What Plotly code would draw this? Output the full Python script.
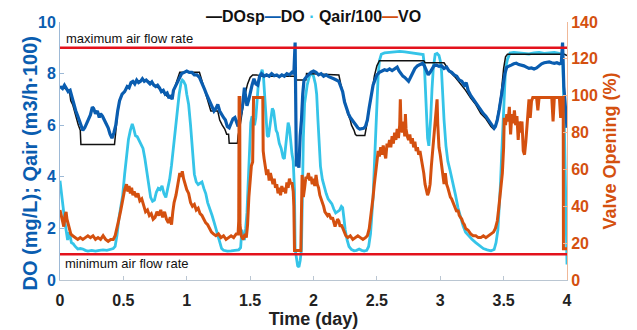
import plotly.graph_objects as go

# ---------------- data ----------------
t_do = [0.00,0.02,0.035,0.05,0.065,0.08,0.095,0.11,0.125,0.14,0.155,0.17,0.18,0.195,0.21,0.225,0.24,0.255,0.265,0.28,
        0.295,0.31,0.32,0.335,0.35,0.365,0.38,0.395,0.41,0.425,0.44,0.455,0.47,0.49,0.51,0.53,0.545,0.56,0.575,0.59,
        0.605,0.62,0.635,0.65,0.665,0.68,0.695,0.71,0.725,0.74,0.755,0.77,0.785,0.80,0.815,0.83,0.845,0.86,0.875,0.885,
        0.895,0.905,0.92,0.94,0.96,0.98,1.00,1.02,1.04,1.06,1.08,1.10,1.12,1.14,1.16,1.18,1.20,1.215,1.23,1.245,
        1.26,1.275,1.29,1.305,1.32,1.335,1.35,1.365,1.38,1.395,1.405,1.415,1.43,1.44,1.455,1.465,1.475,1.49,1.50,1.515,
        1.53,1.545,1.56,1.575,1.59,1.61,1.63,1.65,1.67,1.69,1.71,1.73,1.75,1.77,1.79,1.81,1.83,1.845,1.855,1.86,
        1.865,1.875,1.885,1.895,1.905,1.915,1.925,1.94,1.96,1.98,2.00,2.02,2.04,2.06,2.08,2.10,2.12,2.14,2.16,2.18,
        2.20,2.215,2.23,2.245,2.26,2.275,2.29,2.305,2.32,2.335,2.35,2.365,2.38,2.395,2.41,2.425,2.44,2.455,2.47,2.485,
        2.50,2.52,2.54,2.56,2.58,2.60,2.62,2.64,2.66,2.675,2.69,2.705,2.72,2.735,2.75,2.765,2.78,2.80,2.82,2.84,
        2.86,2.875,2.89,2.905,2.92,2.935,2.95,2.97,2.99,3.01,3.03,3.05,3.07,3.09,3.11,3.13,3.15,3.17,3.19,3.205,
        3.22,3.24,3.26,3.28,3.30,3.32,3.34,3.36,3.38,3.40,3.415,3.425,3.435,3.45,3.465,3.48,3.495,3.51,3.525,3.54,
        3.56,3.58,3.60,3.62,3.64,3.66,3.68,3.70,3.72,3.74,3.76,3.78,3.80,3.82,3.84,3.86,3.88,3.90,3.92,3.94,
        3.955,3.965,3.975,3.99,4.00]
do_vals = [7.50,7.42,7.55,7.40,7.30,7.35,7.05,6.85,6.55,6.35,6.15,5.95,5.80,5.90,6.05,6.25,6.40,6.70,6.65,6.45,
           6.55,6.30,6.45,6.35,6.20,6.10,5.90,5.65,5.50,5.70,6.00,6.55,6.95,7.20,7.30,7.50,7.45,7.65,7.70,7.60,
           7.75,7.65,7.70,7.80,7.70,7.75,7.65,7.60,7.68,7.55,7.50,7.55,7.45,7.30,7.35,7.20,7.25,7.05,7.15,7.00,
           7.35,7.45,7.65,7.85,8.00,8.05,8.10,8.05,8.05,7.95,7.95,7.85,7.65,7.40,7.15,6.95,6.75,6.55,6.65,6.80,
           6.55,6.40,6.30,6.20,5.95,5.90,6.10,6.25,6.30,6.05,5.95,6.20,6.50,6.75,7.45,7.10,6.75,7.00,7.25,7.55,
           7.80,7.60,7.55,7.90,8.00,7.90,7.95,7.90,8.00,7.92,7.95,7.88,7.95,7.90,8.00,7.95,8.05,8.00,9.20,7.60,
           4.40,4.60,4.35,5.60,6.20,7.20,7.75,7.85,7.95,8.05,8.10,8.05,7.95,8.00,7.90,7.95,7.88,7.85,7.80,7.75,
           7.70,7.50,7.30,6.90,6.65,6.45,6.30,6.20,6.05,5.95,5.90,5.85,5.85,5.88,5.95,6.20,6.70,7.20,7.55,7.75,
           7.95,8.05,8.10,8.15,8.12,8.18,8.12,8.20,8.25,8.10,7.98,7.90,7.85,7.75,7.70,7.85,8.00,8.20,8.30,8.35,
           8.40,8.30,8.15,7.95,8.05,8.20,8.30,8.33,8.28,8.30,8.20,8.25,8.10,8.05,7.95,7.90,7.75,7.70,7.55,7.65,
           7.35,7.15,7.00,6.85,6.70,6.55,6.45,6.35,6.20,6.05,5.95,5.88,5.95,6.20,6.60,7.05,7.60,8.00,8.25,8.30,
           8.33,8.38,8.40,8.35,8.33,8.30,8.25,8.20,8.22,8.18,8.22,8.30,8.38,8.42,8.45,8.45,8.42,8.40,8.42,8.38,
           8.40,9.20,7.50,6.40,5.90]

t_dosp = [0.00,0.05,0.075,0.085,0.10,0.115,0.13,0.145,0.16,0.165,0.43,0.435,0.445,0.455,0.47,0.49,0.53,0.57,0.65,0.70,
          0.75,0.80,0.85,0.885,0.90,0.92,0.935,0.945,1.10,1.115,1.13,1.15,1.175,1.19,1.245,1.26,1.28,1.30,1.315,1.33,
          1.335,1.40,1.405,1.42,1.44,1.46,1.48,1.50,1.52,1.55,1.60,1.85,1.855,1.94,1.945,2.20,2.215,2.23,2.25,2.27,
          2.29,2.30,2.32,2.33,2.34,2.405,2.42,2.44,2.46,2.48,2.50,2.52,2.87,2.88,3.03,3.05,3.08,3.12,3.16,3.20,
          3.24,3.28,3.32,3.36,3.40,3.42,3.44,3.46,3.48,3.50,3.515,3.53,3.98,4.00]
dosp_vals = [7.50,7.40,7.30,6.95,6.80,6.50,6.30,6.00,5.80,5.25,5.25,5.55,5.90,6.50,6.95,7.20,7.45,7.65,7.75,7.70,
             7.55,7.35,7.10,7.05,7.40,7.70,7.85,8.05,8.05,7.80,7.50,7.20,6.80,6.55,6.55,6.20,6.00,5.85,5.65,5.65,
             5.30,5.30,5.60,5.95,6.60,7.20,7.60,7.85,7.95,7.95,7.90,7.90,7.75,7.75,8.00,7.95,7.60,7.30,6.85,6.45,
             6.20,6.00,5.80,5.65,5.60,5.60,6.00,6.70,7.30,7.90,8.30,8.50,8.50,8.42,8.42,8.25,8.05,7.85,7.60,7.35,
             7.05,6.80,6.45,6.25,5.95,5.85,6.05,6.55,7.20,8.20,8.65,8.75,8.75,8.70]

t_qair = [0.00,0.01,0.02,0.03,0.04,0.05,0.06,0.07,0.08,0.09,0.105,0.12,0.14,0.16,0.18,0.20,0.22,0.25,0.28,0.31,
          0.34,0.37,0.40,0.42,0.435,0.45,0.465,0.48,0.495,0.51,0.525,0.54,0.555,0.57,0.58,0.595,0.61,0.625,0.64,0.655,
          0.67,0.685,0.70,0.715,0.73,0.745,0.76,0.775,0.79,0.805,0.82,0.835,0.85,0.865,0.88,0.895,0.91,0.925,0.94,0.955,
          0.965,0.975,0.99,1.00,1.015,1.03,1.045,1.06,1.075,1.09,1.105,1.12,1.135,1.15,1.165,1.18,1.20,1.215,1.23,1.245,
          1.26,1.275,1.29,1.32,1.35,1.38,1.41,1.425,1.435,1.445,1.455,1.465,1.475,1.485,1.495,1.505,1.515,1.525,1.535,1.545,
          1.555,1.565,1.58,1.595,1.605,1.615,1.625,1.635,1.645,1.655,1.665,1.675,1.685,1.695,1.705,1.715,1.73,1.745,1.76,1.77,
          1.78,1.79,1.80,1.81,1.82,1.83,1.84,1.85,1.855,1.865,1.875,1.885,1.895,1.905,1.912,1.92,1.93,1.94,1.95,1.965,
          1.975,1.985,2.00,2.015,2.025,2.035,2.045,2.055,2.07,2.085,2.10,2.115,2.13,2.145,2.16,2.175,2.19,2.205,2.22,2.23,
          2.24,2.25,2.265,2.28,2.30,2.32,2.34,2.36,2.38,2.40,2.42,2.435,2.45,2.46,2.47,2.48,2.49,2.50,2.51,2.52,
          2.535,2.56,2.60,2.64,2.68,2.72,2.76,2.80,2.84,2.865,2.875,2.885,2.893,2.90,2.91,2.918,2.925,2.935,2.945,2.96,
          2.975,2.99,3.00,3.01,3.02,3.03,3.045,3.06,3.075,3.09,3.105,3.12,3.14,3.16,3.18,3.20,3.225,3.25,3.28,3.31,
          3.34,3.37,3.40,3.425,3.44,3.455,3.465,3.475,3.485,3.495,3.505,3.515,3.53,3.55,3.58,3.62,3.66,3.70,3.74,3.78,
          3.82,3.86,3.90,3.94,3.965,3.975,3.985,3.993,4.00]
qair_vals = [3.85,3.50,3.10,2.60,2.20,1.75,1.55,1.85,1.70,1.45,1.40,1.30,1.20,1.22,1.20,1.15,1.12,1.15,1.12,1.15,
             1.17,1.15,1.20,1.22,1.30,1.75,2.40,2.90,3.30,4.10,4.90,5.45,5.80,6.05,5.90,5.60,5.55,5.40,5.30,5.10,
             4.70,4.20,3.65,3.20,3.05,3.10,3.40,3.55,3.50,3.65,3.35,3.20,3.55,3.90,4.45,5.20,5.80,6.60,7.20,7.65,
             7.75,7.70,7.55,7.20,6.80,6.00,4.90,4.10,3.80,3.70,3.75,3.80,3.55,3.35,3.00,2.80,2.50,2.25,2.00,1.70,
             1.40,1.22,1.15,1.12,1.13,1.15,1.17,1.25,1.95,1.70,1.55,2.00,2.60,3.80,5.20,6.10,6.35,6.20,6.00,6.30,
             7.00,7.60,7.95,8.15,7.90,7.20,6.40,5.60,5.55,5.95,6.40,6.65,6.55,6.20,5.80,5.70,5.30,5.10,4.75,4.70,
             5.20,5.70,6.10,5.90,5.30,4.90,4.60,3.50,1.20,0.80,0.55,0.50,0.75,1.20,3.50,5.50,6.85,7.30,7.55,7.85,
             8.00,8.00,7.90,7.60,7.20,6.20,5.00,4.40,3.90,3.60,3.35,3.15,3.05,2.95,2.75,2.60,2.65,2.70,2.85,2.80,
             2.40,1.95,1.55,1.30,1.18,1.13,1.15,1.20,1.15,1.12,1.15,1.30,1.80,2.40,3.20,4.40,5.60,6.90,7.90,8.50,
             8.75,8.80,8.82,8.85,8.86,8.84,8.82,8.78,8.76,8.74,8.30,7.20,6.20,5.50,5.20,5.70,6.30,7.40,8.20,8.75,
             8.78,8.70,8.50,8.10,7.00,6.20,5.20,4.60,4.30,4.00,3.70,3.30,2.80,2.40,2.10,1.85,1.70,1.58,1.45,1.32,
             1.22,1.17,1.13,1.18,1.45,1.95,2.70,3.70,4.90,6.20,7.40,8.20,8.55,8.80,8.82,8.80,8.78,8.76,8.80,8.82,
             8.78,8.80,8.82,8.78,8.76,7.00,4.50,1.50,0.60]

t_vo = [0.00,0.01,0.02,0.03,0.04,0.048,0.055,0.065,0.075,0.085,0.10,0.12,0.14,0.16,0.18,0.20,0.22,0.24,0.26,0.28,
        0.30,0.32,0.34,0.36,0.38,0.40,0.42,0.435,0.45,0.465,0.48,0.495,0.51,0.525,0.535,0.545,0.555,0.565,0.575,0.585,
        0.60,0.615,0.63,0.645,0.66,0.675,0.69,0.705,0.72,0.735,0.75,0.765,0.78,0.795,0.81,0.825,0.84,0.855,0.87,0.88,
        0.89,0.90,0.915,0.93,0.945,0.955,0.965,0.975,0.985,1.00,1.015,1.03,1.045,1.06,1.075,1.09,1.105,1.12,1.135,1.15,
        1.165,1.18,1.195,1.21,1.23,1.25,1.27,1.29,1.31,1.33,1.35,1.37,1.39,1.405,1.41,1.413,1.418,1.42,1.43,1.445,
        1.46,1.47,1.48,1.49,1.50,1.51,1.52,1.527,1.60,1.603,1.61,1.62,1.63,1.64,1.65,1.66,1.67,1.68,1.69,1.70,
        1.71,1.72,1.73,1.74,1.75,1.76,1.77,1.78,1.79,1.80,1.81,1.82,1.83,1.84,1.845,1.85,1.90,1.905,1.91,1.915,
        1.92,1.93,1.94,1.95,1.96,1.97,1.98,1.99,2.00,2.01,2.02,2.03,2.04,2.05,2.06,2.07,2.08,2.09,2.10,2.11,
        2.12,2.13,2.14,2.15,2.16,2.17,2.18,2.19,2.20,2.21,2.22,2.23,2.24,2.255,2.27,2.29,2.31,2.33,2.35,2.37,
        2.39,2.41,2.425,2.44,2.45,2.46,2.47,2.48,2.49,2.50,2.51,2.52,2.53,2.54,2.55,2.56,2.57,2.58,2.59,2.60,
        2.61,2.62,2.63,2.64,2.65,2.66,2.67,2.68,2.685,2.69,2.70,2.71,2.72,2.725,2.73,2.74,2.75,2.76,2.77,2.78,
        2.79,2.80,2.81,2.82,2.83,2.84,2.85,2.86,2.87,2.88,2.89,2.90,2.91,2.92,2.93,2.94,2.95,2.96,2.97,2.975,
        2.98,2.99,3.00,3.01,3.02,3.03,3.04,3.05,3.06,3.07,3.08,3.09,3.10,3.11,3.12,3.13,3.14,3.15,3.16,3.17,
        3.18,3.19,3.20,3.22,3.24,3.26,3.28,3.30,3.32,3.34,3.36,3.38,3.40,3.42,3.435,3.45,3.46,3.47,3.48,3.49,
        3.50,3.505,3.515,3.525,3.535,3.545,3.555,3.565,3.575,3.585,3.595,3.605,3.615,3.625,3.635,3.645,3.655,3.665,3.675,3.685,
        3.695,3.70,3.71,3.72,3.73,3.76,3.77,3.78,3.88,3.89,3.90,3.94,3.95,3.96,3.97,3.972,4.00]
vo_vals = [38,35,33,29,35,37,33,30,27,25,24,23,22,23,22,23,24,23,24,22,
           23,22,24,22,21,22,22,24,28,33,38,44,49,52,48,51,47,50,46,48,
           45,47,43,44,40,37,38,35,36,33,34,37,35,38,34,37,33,31,34,30,
           37,42,46,52,58,56,59,55,52,49,47,42,40,41,38,39,36,35,33,31,
           30,28,26,25,24,25,23,24,22,23,24,23,25,25,32,99,99,30,24,22,
           25,23,30,45,55,62,64,99,99,70,66,62,57,60,54,58,55,52,55,50,
           52,47,50,46,51,48,50,47,53,50,55,52,53,48,40,16,16,45,57,52,
           45,50,56,55,58,54,56,52,55,51,57,52,50,46,44,43,40,37,36,35,
           36,34,33,34,31,29,31,33,32,29,30,28,26,24,23,24,22,23,24,23,
           22,23,24,28,33,38,45,52,58,63,70,67,72,68,73,69,66,74,72,76,
           72,78,74,80,76,82,77,84,98,85,80,86,78,90,82,78,76,79,74,77,
           72,75,70,72,68,70,66,64,58,52,48,46,48,52,62,70,76,82,90,98,
           85,72,68,62,55,52,58,52,50,47,45,44,42,40,39,37,38,35,34,33,
           31,30,28,27,25,24,24,23,23,24,23,24,25,26,28,32,38,45,52,58,
           72,88,84,90,86,94,79,90,85,92,84,89,76,86,80,86,70,68,75,86,
           92,98,88,97,99,99,92,99,99,86,99,99,88,99,99,17,17]

limit_t = [0, 4]
max_air = [9, 9]
min_air = [1, 1]

x_ticks = [0, 0.5, 1, 1.5, 2, 2.5, 3, 3.5, 4]
x_tick_text = ["0", "0.5", "1", "1.5", "2", "2.5", "3", "3.5", "4"]
y_ticks = [0, 2, 4, 6, 8, 10]
y2_ticks = [0, 20, 40, 60, 80, 100, 120, 140]

# ---------------- styles ----------------
C_DO = "#0A5DB0"
C_Q = "#35C4E8"
C_VO = "#D4500F"
C_SP = "#111111"
C_RED = "#E3121C"
FONT = "Liberation Sans, Arial, sans-serif"

fig = go.Figure()
fig.add_trace(go.Scatter(x=t_qair, y=qair_vals, name="Qair/100", mode="lines",
                         line=dict(color=C_Q, width=2.8), yaxis="y"))
fig.add_trace(go.Scatter(x=t_vo, y=vo_vals, name="VO", mode="lines",
                         line=dict(color=C_VO, width=3), yaxis="y2"))
fig.add_trace(go.Scatter(x=t_dosp, y=dosp_vals, name="DOsp", mode="lines",
                         line=dict(color=C_SP, width=1.5), yaxis="y"))
fig.add_trace(go.Scatter(x=t_do, y=do_vals, name="DO", mode="lines",
                         line=dict(color=C_DO, width=3.2), yaxis="y"))
fig.add_trace(go.Scatter(x=limit_t, y=max_air, mode="lines", showlegend=False,
                         line=dict(color=C_RED, width=2.5), yaxis="y"))
fig.add_trace(go.Scatter(x=limit_t, y=min_air, mode="lines", showlegend=False,
                         line=dict(color=C_RED, width=2.5), yaxis="y"))

legend_text = (f'<span style="color:{C_SP}">—</span>DOsp'
               f'<span style="color:{C_DO}">—</span>DO '
               f'<span style="color:{C_Q}">·</span> Qair/100'
               f'<span style="color:{C_VO}">—</span>VO')

fig.update_layout(
    width=637, height=330,
    margin=dict(l=60, r=70, t=22, b=50),
    paper_bgcolor="white", plot_bgcolor="white",
    showlegend=False,
    font=dict(family=FONT, size=16, color="#222222"),
    xaxis=dict(range=[0, 4], tickvals=x_ticks, ticktext=x_tick_text, automargin=False,
               showgrid=False, zeroline=False, showline=True, linecolor="#BAC6D2", linewidth=1,
               ticks="inside", ticklen=4, tickcolor="#BAC6D2", ticklabelstandoff=6,
               tickfont=dict(family=FONT, size=16, color="#222222", weight="bold"),
               title=dict(text="Time (day)", font=dict(family=FONT, size=18, color="#222222", weight="bold"),
                          standoff=3)),
    yaxis=dict(range=[0, 10], tickvals=y_ticks, automargin=False,
               showgrid=False, zeroline=False, showline=True, linecolor="#9DB9D6", linewidth=1,
               ticks="inside", ticklen=4, tickcolor="#9DB9D6",
               tickfont=dict(family=FONT, size=16, color=C_DO, weight="bold")),
    yaxis2=dict(range=[0, 140], tickvals=y2_ticks, overlaying="y", side="right", automargin=False,
                showgrid=False, zeroline=False, showline=True, linecolor="#F0B898", linewidth=1,
                ticks="inside", ticklen=4, tickcolor="#F0B898",
                tickfont=dict(family=FONT, size=16, color=C_VO, weight="bold"),
                title=dict(text="Valve Opening (%)",
                           font=dict(family=FONT, size=18, color=C_VO, weight="bold"), standoff=6)),
    annotations=[
        dict(text=legend_text, xref="paper", yref="paper", x=0.5, y=1.02, xanchor="center", yanchor="middle",
             showarrow=False, font=dict(family=FONT, size=16, color="#111111", weight="bold")),
        dict(text="DO (mg/L); Qair (m3/h·100)", xref="paper", yref="paper", x=-0.06, y=0.45,
             xanchor="center", yanchor="middle", textangle=-90, showarrow=False,
             font=dict(family=FONT, size=20, color=C_DO, weight="bold")),
        dict(text="maximum air flow rate", xref="paper", yref="y", x=0.008, y=9, xanchor="left", yanchor="bottom",
             showarrow=False, font=dict(family=FONT, size=13, color="#111111")),
        dict(text="minimum air flow rate", xref="paper", yref="y", x=0.006, y=1, xanchor="left", yanchor="top",
             showarrow=False, font=dict(family=FONT, size=13, color="#111111")),
    ],
)

fig.write_html("out.html")
